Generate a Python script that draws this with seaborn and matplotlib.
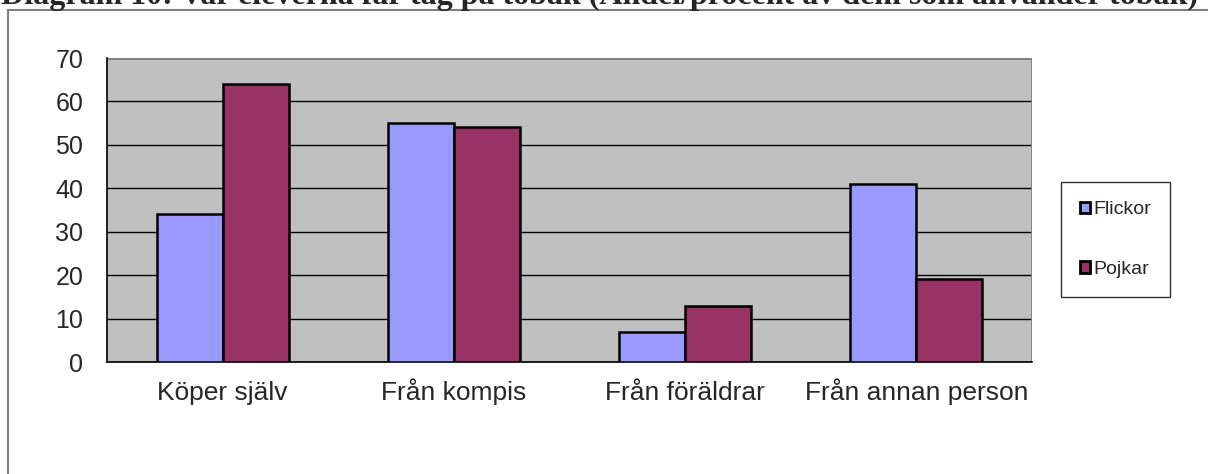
import pandas as pd
import numpy as np
import matplotlib.pyplot as plt
import seaborn as sns
from matplotlib.patches import Rectangle, Patch

# data
categories = ['Köper själv', 'Från kompis', 'Från föräldrar', 'Från annan person']
flickor = [34, 55, 7, 41]
pojkar = [64, 54, 13, 19]
series = ['Flickor', 'Pojkar']
colors = ['#9999FF', '#993366']
title = 'Diagram 10: Var eleverna får tag på tobak (Andel/procent av dem som använder tobak)'

df = pd.DataFrame({
    'kategori': categories * 2,
    'kön': ['Flickor'] * 4 + ['Pojkar'] * 4,
    'andel': flickor + pojkar,
})

sns.set_style('white')
plt.rcParams['font.family'] = ['Liberation Sans', 'DejaVu Sans']

W, H = 1208, 474
fig = plt.figure(figsize=(W / 100, H / 100), dpi=100)

# outer chart frame (runs off the right/bottom edge)
fig.patches.append(Rectangle((8 / W, -0.1), 1.2, 1 - 10 / H + 0.1, transform=fig.transFigure,
                             fill=False, edgecolor='#808080', linewidth=1.5))

# clipped title at the very top
fig.text(1 / W, 1 - 4 / H, title, fontsize=23, fontweight='bold', family='Liberation Serif',
         va='baseline', ha='left')

ax = fig.add_axes([107 / W, 1 - 362 / H, (1032 - 107) / W, (362 - 58) / H])
ax.set_facecolor('#C0C0C0')

sns.barplot(data=df, x='kategori', y='andel', hue='kön', palette=colors, order=categories,
            hue_order=series, width=0.57, gap=0, edgecolor='black', linewidth=1.8,
            saturation=1, ax=ax, zorder=3, legend=False)

ax.set_xlim(-0.5, 3.5)
ax.set_ylim(0, 70)
ax.set_yticks(range(0, 71, 10))
ax.yaxis.grid(True, color='black', linewidth=1)
ax.set_axisbelow(True)
for s in ['top', 'right']:
    ax.spines[s].set_visible(False)
ax.spines['left'].set_color('black')
ax.spines['bottom'].set_color('black')
ax.spines['left'].set_linewidth(1.2)
ax.spines['bottom'].set_linewidth(1.2)
# grey edge lines on top/right of plot area
ax.axhline(70, color='#808080', linewidth=2, zorder=1)
ax.axvline(3.5, color='#808080', linewidth=2, zorder=1)

# category labels on a shared baseline, ticks between categories
ax.set_xticks(range(4))
ax.set_xticklabels([])
ax.tick_params(axis='x', which='major', length=0)
for i, name in enumerate(categories):
    ax.text(i, -38 / 304, name, transform=ax.get_xaxis_transform(), fontsize=19,
            ha='center', va='baseline')
ax.set_xticks(np.arange(-0.5, 4, 1), minor=True)
ax.tick_params(axis='x', which='minor', length=7, direction='out', color='black', width=1)
ax.tick_params(axis='y', length=7, direction='out', color='black', width=1, labelsize=18, pad=10)
ax.set_xlabel('')
ax.set_ylabel('')

handles = [Patch(facecolor=c, edgecolor='black', linewidth=2) for c in colors]
leg = fig.legend(handles, series, loc='center left', bbox_to_anchor=(1061 / W, 1 - 239.5 / H),
                 frameon=True, fancybox=False, edgecolor='black', fontsize=14,
                 handlelength=0.5, handleheight=0.5, handletextpad=0.15, labelspacing=2.2,
                 borderpad=1.0, borderaxespad=0)
leg.get_frame().set_linewidth(1)

fig.savefig('out.png', dpi=100)
